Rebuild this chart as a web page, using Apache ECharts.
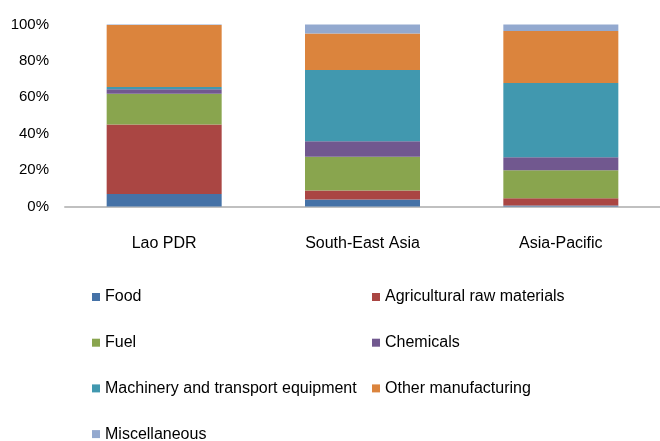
<!DOCTYPE html>
<html>
<head>
<meta charset="utf-8">
<script src="https://cdn.jsdelivr.net/npm/echarts@6/dist/echarts.min.js"></script>
<style>
  html, body { margin: 0; padding: 0; background: #fff; }
  .main { width: 660px; height: 441px; }
</style>
</head>
<body>
<div class="main"></div>
<script>
let categories = ['Lao PDR', 'South-East Asia', 'Asia-Pacific'];

// share of exports, %
let food = [6.8, 3.9, 0.6];
let agri = [38.2, 4.9, 4.0];
let fuel = [17.0, 18.5, 15.3];
let chemicals = [2.4, 8.5, 7.1];
let machinery = [1.3, 39.2, 40.8];
let otherManuf = [34.0, 20.0, 28.6];
let misc = [0.3, 5.0, 3.6];

let yTicks = [0, 20, 40, 60, 80, 100];

let font = '"Liberation Sans", Arial, sans-serif';

let chartDom = document.querySelector('.main');
let myChart = echarts.init(chartDom);

function bar(name, data, color) {
    return {
        name: name,
        type: 'bar',
        stack: 'total',
        barWidth: 115,
        data: data,
        itemStyle: { color: color }
    };
}

let legendText = { color: '#000', fontFamily: font, fontSize: 16, lineHeight: 20 };

let option = {
    backgroundColor: '#fff',
    animation: false,
    grid: { left: 65, top: 24.5, width: 606, height: 182 },
    // two legend columns
    legend: [
        {
            orient: 'vertical', left: 87, top: 282, height: 200,
            itemWidth: 8, itemHeight: 8, itemGap: 25.7,
            icon: 'rect', textStyle: legendText,
            data: ['Food', 'Fuel', 'Machinery and transport equipment', 'Miscellaneous']
        },
        {
            orient: 'vertical', left: 367, top: 282, height: 200,
            itemWidth: 8, itemHeight: 8, itemGap: 25.7,
            icon: 'rect', textStyle: legendText,
            data: ['Agricultural raw materials', 'Chemicals', 'Other manufacturing']
        }
    ],
    xAxis: {
        type: 'category',
        data: categories,
        axisLine: { lineStyle: { color: '#c0c0c0', width: 2 } },
        axisTick: { show: false },
        axisLabel: { color: '#000', fontFamily: font, fontSize: 16, margin: 29 }
    },
    yAxis: {
        type: 'value',
        min: yTicks[0],
        max: yTicks[yTicks.length - 1],
        interval: 20,
        splitLine: { show: false },
        axisLine: { show: false },
        axisTick: { show: false },
        axisLabel: {
            color: '#000', fontFamily: font, fontSize: 15, margin: 16,
            formatter: v => v + '%'
        }
    },
    series: [
        bar('Food', food, '#4572a7'),
        bar('Agricultural raw materials', agri, '#aa4643'),
        bar('Fuel', fuel, '#89a54e'),
        bar('Chemicals', chemicals, '#71588f'),
        bar('Machinery and transport equipment', machinery, '#4198af'),
        bar('Other manufacturing', otherManuf, '#db843d'),
        bar('Miscellaneous', misc, '#93a9cf')
    ]
};

myChart.setOption(option);
</script>
</body>
</html>
